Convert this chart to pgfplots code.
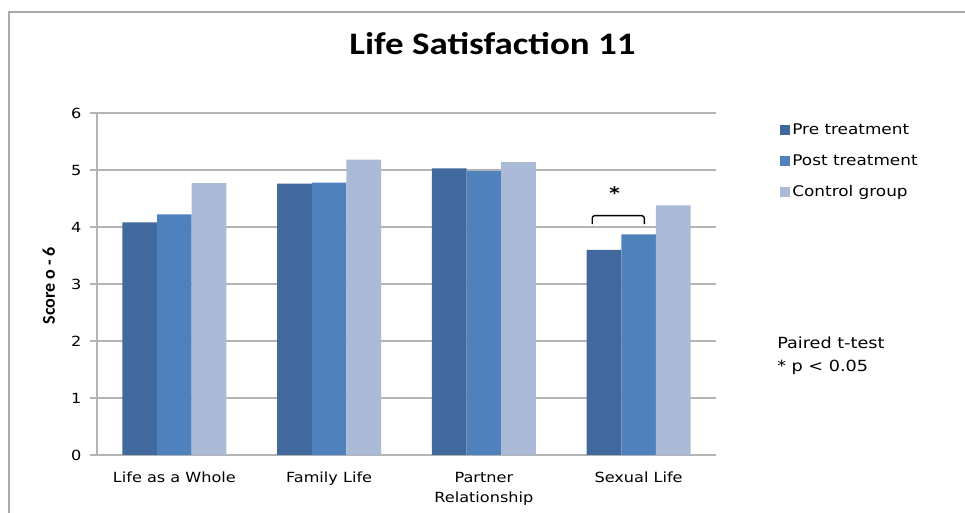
\documentclass[border=0pt]{standalone}
\usepackage{fontspec}
\usepackage{pgfplots}
\pgfplotsset{compat=1.18}
\setmainfont{DejaVu Sans}[FakeStretch=1.15]
\newfontfamily\titlefont{Carlito}[FakeStretch=1.18]
\newfontfamily\labelfont{Carlito}

\definecolor{preC}{RGB}{65,105,157}
\definecolor{postC}{RGB}{79,129,189}
\definecolor{ctrlC}{RGB}{170,186,215}
\definecolor{gridC}{RGB}{180,180,180}
\definecolor{frameC}{RGB}{170,170,170}

\begin{document}
\begin{tikzpicture}
% page = 965 x 513 px, 1 px = 0.75 pt
\path[use as bounding box] (0,0) rectangle (723.75pt,384.75pt);
\draw[frameC, line width=1.2pt] (6.75pt,0) -- (6.75pt,375.75pt) -- (723.75pt,375.75pt);

\node[anchor=base, font=\titlefont\bfseries\fontsize{23.5}{26}\selectfont]
  at (369.4pt,343.5pt) {Life Satisfaction 11};

\begin{axis}[
    at={(72.75pt,43.5pt)}, anchor=south west,
    scale only axis,
    width=464.25pt, height=256.5pt,
    ybar=0pt, bar width=26pt,
    xmin=-0.5, xmax=3.5,
    ymin=0, ymax=6,
    ytick={0,1,2,3,4,5,6},
    xtick={0,1,2,3},
    xticklabels={Life as a Whole, Family Life, {Partner\\Relationship}, Sexual Life},
    xticklabel style={align=center, font=\fontsize{10.5}{15}\selectfont, yshift=-4pt},
    yticklabel style={font=\fontsize{10.5}{12}\selectfont, xshift=-3pt},
    /pgf/number format/assume math mode=true,
    axis x line=bottom, axis y line=left,
    axis line style={draw=gridC, line width=0.8pt, -},
    ymajorgrids, grid style={draw=gridC, line width=0.8pt},
    tick align=outside, major tick length=5.25pt,
    ytick style={draw=gridC, line width=0.8pt},
    xtick style={draw=none},
    ylabel={Score o - 6},
    ylabel style={at={(axis description cs:-0.078,0.495)}, anchor=center,
      font=\labelfont\bfseries\fontsize{13.5}{14}\selectfont},
    legend style={at={(1.096,0.985)}, anchor=north west, draw=none, fill=none,
      font=\fontsize{11}{13}\selectfont, row sep=9.7pt,
      /tikz/every even column/.append style={column sep=2pt}},
    legend cell align=left,
    legend image code/.code={\fill[#1] (0pt,-3.75pt) rectangle (7.5pt,3.75pt);},
    clip=false,
]
\addplot[fill=preC, draw=none] coordinates {(0,4.08) (1,4.76) (2,5.03) (3,3.60)};
\addplot[fill=postC, draw=none] coordinates {(0,4.22) (1,4.78) (2,4.98) (3,3.87)};
\addplot[fill=ctrlC, draw=none] coordinates {(0,4.77) (1,5.18) (2,5.14) (3,4.38)};
\legend{Pre treatment, Post treatment, Control group}

% significance bracket
\draw[black, line width=1pt, rounded corners=2pt]
  (axis cs:2.70,4.05) -- (axis cs:2.70,4.20) -- (axis cs:3.037,4.20) -- (axis cs:3.037,4.05);
\node[font=\bfseries\fontsize{13}{13}\selectfont] at (axis cs:2.845,4.60) {*};
\end{axis}

\node[anchor=base west, inner sep=0pt, font=\fontsize{11.5}{13}\selectfont] at (582.75pt,123pt) {Paired t-test};
\node[anchor=base west, inner sep=0pt, font=\fontsize{11.5}{13}\selectfont] at (582.75pt,105.75pt) {* p < 0.05};
\end{tikzpicture}
\end{document}
